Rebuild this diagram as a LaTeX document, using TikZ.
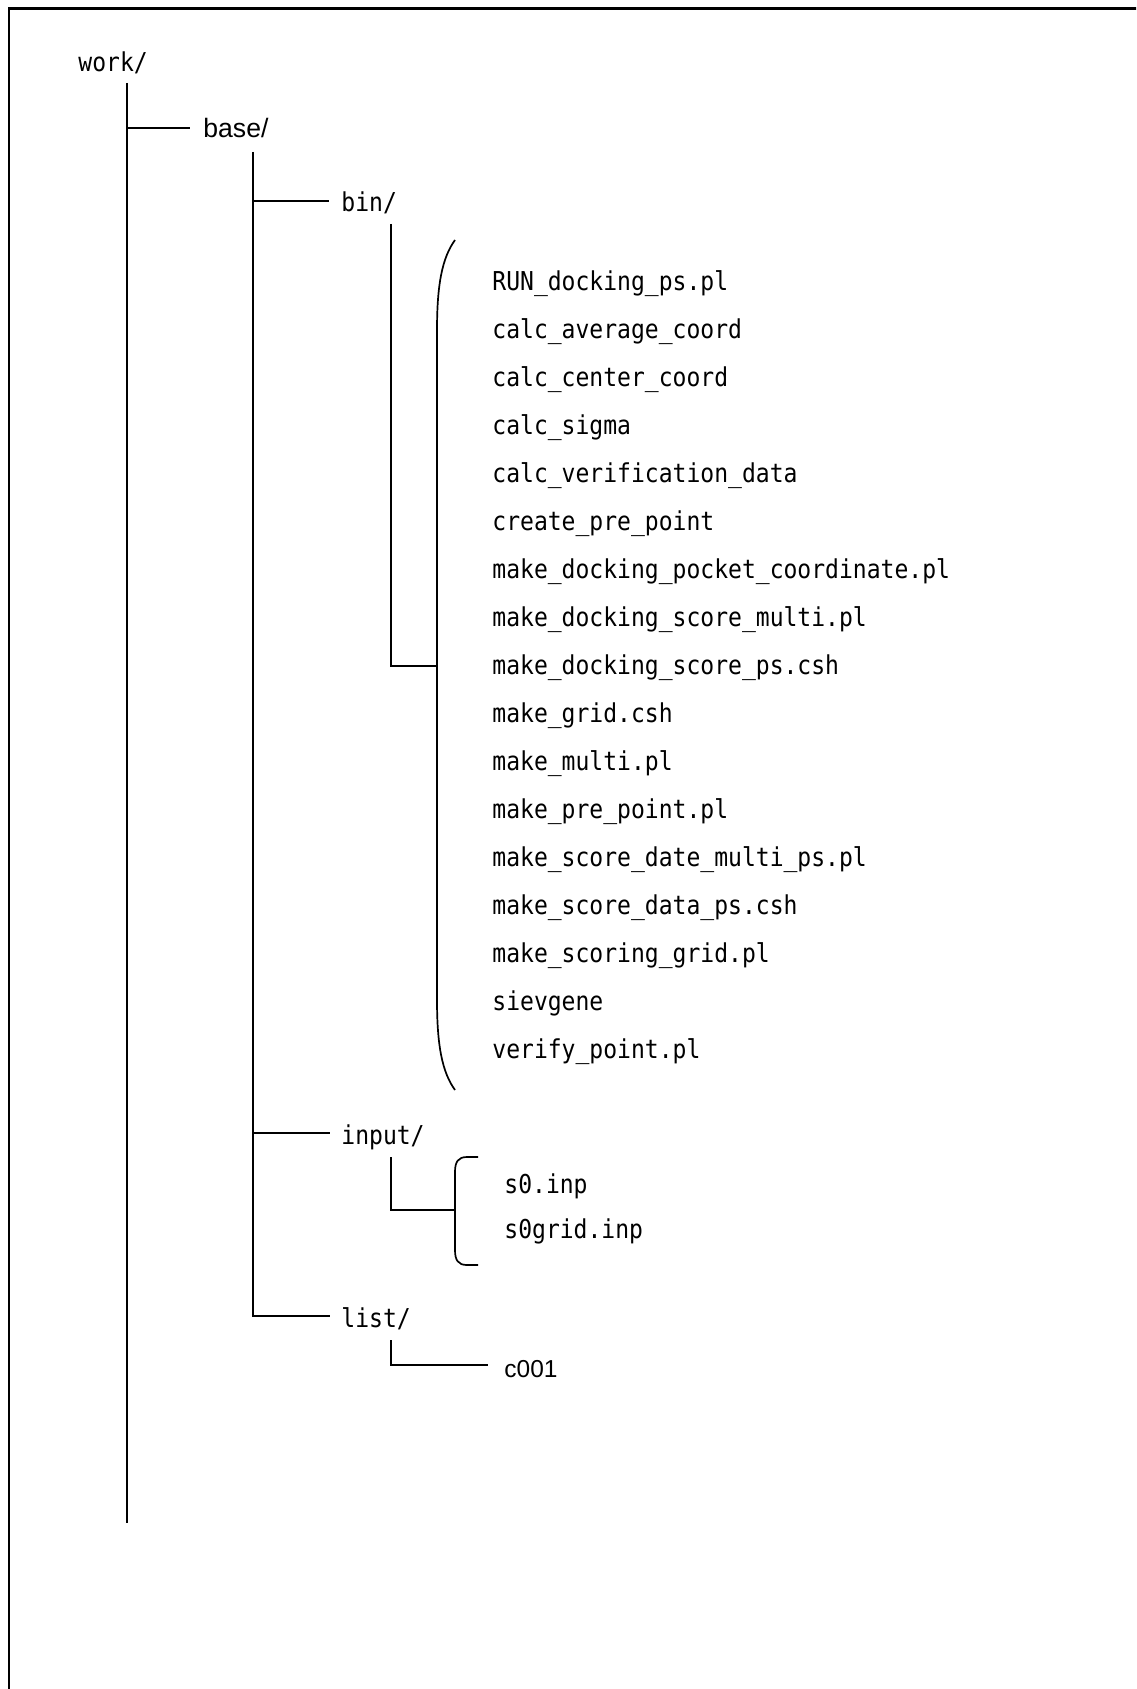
\documentclass[tikz,border=0pt]{standalone}
\usepackage{fontspec}
\usetikzlibrary{calc}
\newfontfamily\monofont[FakeStretch=0.886]{DejaVu Sans Mono}
\newfontfamily\arialfont{Liberation Sans}
\begin{document}
\begin{tikzpicture}[x=0.5pt,y=-0.5pt,
  tree/.style={line width=1pt},
  bracepath/.style={line width=0.85pt},
  mono/.style={font=\monofont\fontsize{13}{15}\selectfont, inner sep=0pt, anchor=base west},
  sans/.style={font=\arialfont\fontsize{13.3}{15}\selectfont, inner sep=0pt, anchor=base west},
  sanssm/.style={font=\arialfont\fontsize{12.25}{15}\selectfont, inner sep=0pt, anchor=base west}]
\useasboundingbox (0,0) rectangle (1136,1689);
\begin{scope}
  \clip (0,0) rectangle (1136,1689);
  \draw[line width=1.1pt] (9,8.5) rectangle (1170,1720);
\end{scope}

% work/
\node[mono] (work) at (78,72) {work/};
\coordinate (w0) at (127,83);
\coordinate (w1) at (127,1523);
\draw[tree] (w0) -- (w1);

% base/
\node[sans] (base) at (203,138) {base/};
\coordinate (jbase) at (127,128);
\draw[tree] (jbase) -- ($(jbase -| base.west)+(-13,0)$);

% level 2 labels
\node[mono] (bin) at (341,212) {bin/};
\node[mono] (input) at (341,1144) {input/};
\node[mono] (list) at (341,1327) {list/};

\coordinate (b0) at (253,152);
\coordinate (jbin) at (253,201);
\coordinate (jin) at (253,1133);
\coordinate (jlist) at (253,1316);
\draw[tree] (b0) -- (jlist) -- ($(jlist -| list.west)+(-11,0)$);
\draw[tree] (jbin) -- ($(jbin -| bin.west)+(-12,0)$);
\draw[tree] (jin) -- ($(jin -| input.west)+(-11,0)$);

% bin contents
\coordinate (bv0) at (391,224);
\coordinate (bbr) at (437,666);
\coordinate (bt) at (455,240);
\coordinate (bb) at (455,1090);
\draw[tree] (bv0) |- (bbr);
\draw[bracepath] (bt) .. controls (442,258) and (437,285) .. (437,330)
  -- (437,1000) .. controls (437,1045) and (442,1072) .. (bb);
\foreach \t [count=\i from 0] in {RUN\_docking\_ps.pl, calc\_average\_coord,
  calc\_center\_coord, calc\_sigma, calc\_verification\_data, create\_pre\_point,
  make\_docking\_pocket\_coordinate.pl, make\_docking\_score\_multi.pl,
  make\_docking\_score\_ps.csh, make\_grid.csh, make\_multi.pl,
  make\_pre\_point.pl, make\_score\_date\_multi\_ps.pl, make\_score\_data\_ps.csh,
  make\_scoring\_grid.pl, sievgene, verify\_point.pl}
  \node[mono] (f\i) at (492,{291+47.94*\i}) {\t};

% input contents
\coordinate (iv0) at (391,1157);
\coordinate (ibr) at (455,1210);
\coordinate (it) at (478,1157);
\coordinate (ib) at (478,1265);
\draw[tree] (iv0) |- (ibr);
\draw[bracepath] (it) -- (467,1157) .. controls (458,1157) and (455,1162) .. (455,1172)
  -- (455,1250) .. controls (455,1260) and (458,1265) .. (467,1265) -- (ib);
\node[mono] (s0) at (504,1193) {s0.inp};
\node[mono] (s0grid) at (504,1238) {s0grid.inp};

% list contents
\node[sanssm] (c001) at (504,1377) {c001};
\coordinate (lv0) at (391,1340);
\coordinate (lv1) at (391,1365);
\draw[tree] (lv0) -- (lv1) -- ($(lv1 -| c001.west)+(-16,0)$);
\end{tikzpicture}
\end{document}
